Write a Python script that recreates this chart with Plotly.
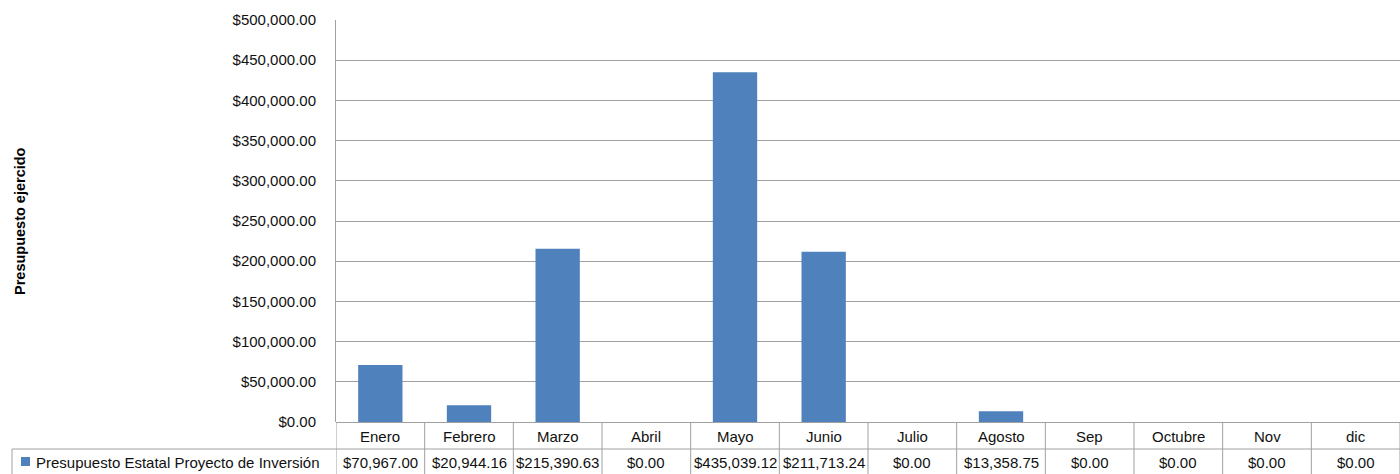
import plotly.graph_objects as go

months = ["Enero", "Febrero", "Marzo", "Abril", "Mayo", "Junio", "Julio",
          "Agosto", "Sep", "Octubre", "Nov", "dic"]
values = [70967.00, 20944.16, 215390.63, 0.00, 435039.12, 211713.24, 0.00,
          13358.75, 0.00, 0.00, 0.00, 0.00]
series_name = "Presupuesto Estatal Proyecto de Inversión"
y_title = "Presupuesto ejercido"
y_ticks = [0, 50000, 100000, 150000, 200000, 250000, 300000, 350000, 400000, 450000, 500000]
y_tick_text = ["${:,.2f}".format(v) for v in y_ticks]

W, H = 1400, 474
L, R, T, B = 336, 0, 20, 52
PH = H - T - B   # plot height in px
PW = W - L - R

BAR = "#4F81BD"
GRID = "#A0A0A0"
FONT = "Liberation Sans"
TXT = "#111111"
FS = 15


def py(p):
    """pixel y -> paper y"""
    return (H - B - p) / PH


def px(p):
    """pixel x -> paper x"""
    return (p - L) / PW


xs = list(range(len(months)))

fig = go.Figure()
fig.add_trace(go.Bar(x=xs, y=values, marker=dict(color=BAR, line=dict(width=0)),
                     name=series_name, showlegend=False))

shapes = []
# vertical table lines at category boundaries
for i in range(len(months) + 1):
    shapes.append(dict(type="line", xref="x", yref="paper", x0=i - 0.5, x1=i - 0.5,
                       y0=py(422), y1=py(476), line=dict(color=GRID, width=1)))
# horizontal line between header row and value row
shapes.append(dict(type="line", xref="paper", yref="paper", x0=px(12), x1=1,
                   y0=py(449), y1=py(449), line=dict(color=GRID, width=1)))
# left border of value row
shapes.append(dict(type="line", xref="paper", yref="paper", x0=px(12), x1=px(12),
                   y0=py(449), y1=py(476), line=dict(color=GRID, width=1)))
# legend key
shapes.append(dict(type="rect", xref="paper", yref="paper", x0=px(21), x1=px(30),
                   y0=py(466), y1=py(457), fillcolor=BAR, line=dict(width=0)))

annotations = []
for i, m in enumerate(months):
    annotations.append(dict(x=i, xref="x", y=py(436), yref="paper", text=m,
                            showarrow=False, xanchor="center", yanchor="middle",
                            font=dict(family=FONT, size=FS, color=TXT)))
    annotations.append(dict(x=i, xref="x", y=py(462), yref="paper",
                            text="${:,.2f}".format(values[i]),
                            showarrow=False, xanchor="center", yanchor="middle",
                            font=dict(family=FONT, size=FS, color=TXT)))
annotations.append(dict(x=px(34), xref="paper", y=py(462), yref="paper", text=series_name,
                        showarrow=False, xanchor="left", yanchor="middle",
                        font=dict(family=FONT, size=FS, color=TXT)))
annotations.append(dict(x=px(20), xref="paper", y=py(221), yref="paper",
                        text="<b>" + y_title + "</b>", textangle=-90,
                        showarrow=False, xanchor="center", yanchor="middle",
                        font=dict(family=FONT, size=14.5, color="#000000")))

fig.update_layout(
    width=W, height=H,
    margin=dict(l=L, r=R, t=T, b=B, pad=0),
    plot_bgcolor="white", paper_bgcolor="white",
    bargap=0.5,
    shapes=shapes, annotations=annotations,
    font=dict(family=FONT, size=FS, color=TXT),
    xaxis=dict(range=[-0.5, len(months) - 0.5], showticklabels=False, showgrid=False,
               zeroline=False, showline=False, ticks=""),
    yaxis=dict(range=[0, 500000], tickvals=y_ticks, ticktext=y_tick_text,
               showgrid=True, gridcolor=GRID, gridwidth=1, zeroline=True,
               zerolinecolor=GRID, zerolinewidth=1, showline=True, linecolor=GRID,
               linewidth=1, ticks="", ticklabelstandoff=16,
               tickfont=dict(family=FONT, size=FS, color=TXT)),
)

fig.write_html("out.html", config={"displayModeBar": False},
               post_script="document.body.style.margin='0';document.body.style.overflow='hidden';")
